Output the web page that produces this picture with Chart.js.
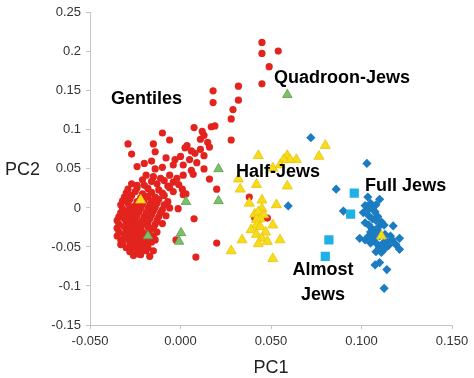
<!DOCTYPE html>
<html>
<head>
<meta charset="utf-8">
<script src="https://cdn.jsdelivr.net/npm/chart.js@4/dist/chart.umd.min.js"></script>
<style>
html,body{margin:0;padding:0;background:#fff;}
#wrap{width:474px;height:378px;}
</style>
</head>
<body>
<div id="wrap"><canvas id="c" width="474" height="378"></canvas></div>
<script>
// ---- data (PC1, PC2) ----
const gentiles = [
  [0.018,0.150],[0.018,0.135],[0.032,0.156],[0.032,0.138],[0.029,0.126],[0.028,0.114],[0.028,0.087],
  [0.045,0.212],[0.045,0.198],[0.054,0.201],[0.049,0.181],[0.045,0.159],
  [0.0075,0.103],[0.012,0.098],[0.017,0.104],[0.019,0.105],[-0.010,0.096],[-0.006,0.087],[-0.029,0.082],
  [-0.027,0.069],[-0.015,0.082],[-0.014,0.072],[-0.024,0.053],[-0.020,0.057],[-0.016,0.060],[-0.008,0.064],
  [0.000,0.066],[-0.003,0.062],[0.0025,0.077],[0.006,0.073],[0.011,0.088],[0.013,0.093],[0.015,0.084],
  [0.011,0.075],[0.013,0.067],[0.009,0.058],[0.006,0.048],[0.0015,0.055],[-0.004,0.055],[-0.010,0.052],
  [-0.014,0.050],[-0.019,0.042],[-0.015,0.040],[-0.011,0.038],[-0.006,0.042],[-0.002,0.038],[0.0015,0.042],
  [0.007,0.043],[0.013,0.050],[0.016,0.037],[0.020,0.024],[-0.024,0.029],[0.0036,0.080],[0.008,0.070],
  [0.005,0.062],[0.016,0.078],
  [0.0075,-0.014],[-0.0013,-0.001],[-0.0025,-0.041],[0.020,-0.045],[0.0085,-0.063],[0.0015,0.017],
  [-0.017,-0.062],[-0.015,-0.055],[-0.022,-0.060],[-0.033,-0.047],[0.038,0.014],[0.041,-0.013],[0.048,-0.013],
  [-0.021,0.036],[-0.016,0.034],[-0.009,0.035],[-0.004,0.033],
  [-0.027,0.031],[-0.020,0.029],[-0.013,0.031],[-0.007,0.028],[-0.001,0.030],
  [-0.029,0.024],[-0.024,0.026],[-0.018,0.025],[-0.012,0.023],[-0.006,0.026],[0.001,0.024],
  [-0.030,0.019],[-0.025,0.021],[-0.021,0.018],[-0.016,0.020],[-0.010,0.019],[-0.004,0.021],[0.003,0.018],
  [-0.031,0.014],[-0.027,0.016],[-0.022,0.013],[-0.018,0.015],[-0.014,0.014],[-0.009,0.016],
  [-0.032,0.009],[-0.028,0.011],[-0.024,0.008],[-0.020,0.010],[-0.016,0.009],[-0.012,0.011],[-0.007,0.008],
  [-0.033,0.004],[-0.029,0.006],[-0.025,0.003],[-0.021,0.005],[-0.017,0.004],[-0.013,0.006],[-0.009,0.004],
  [-0.032,-0.001],[-0.028,0.001],[-0.025,-0.002],[-0.022,0.000],[-0.018,-0.001],[-0.014,0.001],[-0.010,-0.002],[-0.006,0.000],
  [-0.033,-0.006],[-0.029,-0.004],[-0.026,-0.007],[-0.023,-0.005],[-0.019,-0.006],[-0.015,-0.004],[-0.011,-0.006],
  [-0.034,-0.011],[-0.030,-0.009],[-0.027,-0.012],[-0.024,-0.010],[-0.020,-0.011],[-0.016,-0.009],[-0.012,-0.011],[-0.008,-0.010],
  [-0.035,-0.016],[-0.031,-0.014],[-0.028,-0.017],[-0.025,-0.015],[-0.021,-0.016],[-0.017,-0.014],[-0.013,-0.016],
  [-0.034,-0.021],[-0.030,-0.019],[-0.027,-0.022],[-0.024,-0.020],[-0.021,-0.021],[-0.018,-0.019],[-0.014,-0.021],[-0.010,-0.020],
  [-0.035,-0.026],[-0.031,-0.024],[-0.028,-0.027],[-0.025,-0.025],[-0.022,-0.026],[-0.018,-0.024],[-0.015,-0.026],
  [-0.034,-0.031],[-0.030,-0.029],[-0.027,-0.032],[-0.024,-0.030],[-0.021,-0.031],[-0.017,-0.029],[-0.013,-0.031],
  [-0.035,-0.036],[-0.031,-0.034],[-0.028,-0.037],[-0.025,-0.035],[-0.022,-0.036],[-0.019,-0.034],[-0.015,-0.036],
  [-0.033,-0.041],[-0.030,-0.039],[-0.027,-0.042],[-0.024,-0.040],[-0.021,-0.041],[-0.018,-0.039],[-0.014,-0.041],
  [-0.032,-0.046],[-0.028,-0.044],[-0.025,-0.047],[-0.022,-0.045],[-0.019,-0.046],[-0.016,-0.044],
  [-0.030,-0.051],[-0.027,-0.049],[-0.024,-0.052],[-0.021,-0.050],[-0.018,-0.051],
  [-0.028,-0.056],[-0.025,-0.054],[-0.022,-0.057],[-0.019,-0.055],
  [-0.026,-0.061],[-0.023,-0.059]
];
const halfJews = [
  [0.043,0.067],[0.059,0.067],[0.064,0.062],[0.0605,0.062],[0.057,0.062],[0.051,0.051],[0.055,0.055],
  [0.080,0.080],[0.0765,0.066],[0.032,0.037],[0.042,0.030],[0.059,0.028],[0.033,0.024],[0.045,0.010],
  [0.038,0.006],[0.053,0.004],[0.045,-0.001],[0.041,-0.008],[0.043,-0.005],[0.046,-0.009],[0.044,-0.014],
  [0.042,-0.015],[0.051,-0.022],[0.042,-0.022],[0.044,-0.024],[0.039,-0.028],[0.047,-0.031],[0.042,-0.034],
  [0.045,-0.039],[0.034,-0.041],[0.055,-0.041],[0.048,-0.043],[0.043,-0.046],[0.028,-0.055],[0.051,-0.065],
  [0.111,-0.036],[-0.022,0.010]
];
const quadroonJews = [
  [0.059,0.145],[0.021,0.050],[0.003,0.008],[0.021,0.009],[0.0003,-0.032],[-0.0008,-0.043],[-0.018,-0.036],[0.043,-0.013]
];
const almostJews = [
  [0.096,0.019],[0.094,-0.008],[0.082,-0.041],[0.080,-0.062]
];
const fullJews = [
  [0.072,0.090],[0.103,0.057],[0.086,0.024],[0.0595,0.0025],[0.090,-0.004],
  [0.1035,0.014],[0.110,0.011],[0.102,0.003],[0.106,0.000],[0.1075,-0.005],[0.101,-0.006],[0.104,-0.010],
  [0.109,-0.011],[0.111,-0.018],[0.102,-0.019],[0.1125,-0.022],[0.1175,-0.023],[0.106,-0.027],[0.105,-0.031],
  [0.109,-0.029],[0.099,-0.039],[0.102,-0.041],[0.107,-0.039],[0.1085,-0.046],[0.114,-0.043],[0.117,-0.041],
  [0.121,-0.039],[0.119,-0.047],[0.110,-0.051],[0.113,-0.052],[0.121,-0.053],[0.1075,-0.073],[0.110,-0.070],
  [0.114,-0.079],[0.1125,-0.103],
  [0.105,0.006],[0.108,0.004],[0.104,-0.002],[0.108,-0.016],[0.106,-0.014],[0.104,-0.022],[0.1095,-0.024],
  [0.113,-0.034],[0.110,-0.036],[0.1065,-0.034],[0.116,-0.036],[0.112,-0.045],[0.105,-0.045],[0.115,-0.048],
  [0.108,-0.056],[0.111,-0.057],[0.104,-0.036]
];
const xTickValues = [-0.05, 0, 0.05, 0.1, 0.15];
const xTickLabels = ['-0.050','0.000','0.050','0.100','0.150'];
const yTickValues = [-0.15,-0.1,-0.05,0,0.05,0.1,0.15,0.2,0.25];
const yTickLabels = ['-0.15','-0.1','-0.05','0','0.05','0.1','0.15','0.2','0.25'];
const groupLabels = ['Gentiles','Quadroon-Jews','Half-Jews','Full Jews','Almost','Jews'];
const xTitle = 'PC1';
const yTitle = 'PC2';

const toPts = arr => arr.map(p => ({x:p[0], y:p[1]}));
const FONT = "'Liberation Sans', Arial, sans-serif";
const axisColor = '#c4c4c4';

const textPlugin = {
  id:'texts',
  afterDatasetsDraw(chart){
    const ctx = chart.ctx, xs = chart.scales.x, ys = chart.scales.y;
    ctx.save();
    ctx.fillStyle = '#000';
    ctx.font = "bold 18px " + FONT;
    ctx.textBaseline = 'middle';
    const place = [
      [groupLabels[0], -0.0188, 0.139, 'center'],
      [groupLabels[1], 0.0517, 0.167, 'left'],
      [groupLabels[2], 0.0307, 0.046, 'left'],
      [groupLabels[3], 0.102, 0.028, 'left'],
      [groupLabels[4], 0.0787, -0.079, 'center'],
      [groupLabels[5], 0.0787, -0.112, 'center']
    ];
    place.forEach(([t,x,y,al]) => {
      ctx.textAlign = al;
      ctx.fillText(t, xs.getPixelForValue(x), ys.getPixelForValue(y));
    });
    ctx.font = "18px " + FONT;
    ctx.fillStyle = '#222';
    ctx.textAlign = 'left';
    ctx.fillText(yTitle, 5, ys.getPixelForValue(0.05) + 1);
    ctx.textAlign = 'center';
    ctx.fillText(xTitle, (chart.chartArea.left + chart.chartArea.right)/2, 368);
    ctx.restore();
  }
};

new Chart(document.getElementById('c'), {
  type:'scatter',
  data:{
    datasets:[
      {label:'Gentiles', data:toPts(gentiles), pointStyle:'circle', pointRadius:3.6,
       backgroundColor:'#e2231e', borderColor:'#e2231e', borderWidth:0, order:6},
      {label:'Full Jews', data:toPts(fullJews), pointStyle:'rectRot', pointRadius:4.6,
       backgroundColor:'#1b7cc2', borderColor:'#1b7cc2', borderWidth:0, order:5},
      {label:'Almost Jews', data:toPts(almostJews), pointStyle:'rect', pointRadius:6.5,
       backgroundColor:'#1fb1e6', borderColor:'#1fb1e6', borderWidth:0, order:4},
      {label:'Quadroon-Jews', data:toPts(quadroonJews), pointStyle:'triangle', pointRadius:5.5,
       backgroundColor:'#7cc06a', borderColor:'#5c9e4a', borderWidth:0.8, order:3},
      {label:'Half-Jews', data:toPts(halfJews), pointStyle:'triangle', pointRadius:5.8,
       backgroundColor:'#f8dc1c', borderColor:'#e6c40a', borderWidth:0.8, order:2}
    ]
  },
  options:{
    responsive:false,
    animation:false,
    events:[],
    layout:{padding:{left:0,right:22,top:10,bottom:0}},
    plugins:{legend:{display:false}, tooltip:{enabled:false}},
    scales:{
      x:{
        type:'linear', min:-0.05, max:0.15,
        afterBuildTicks: s => { s.ticks = xTickValues.map(v => ({value:v})); },
        afterFit: s => { s.height = 53; },
        ticks:{ callback:(v,i) => xTickLabels[i], font:{family:FONT, size:13}, color:'#333', padding:5, maxRotation:0, autoSkip:false },
        grid:{ display:true, drawOnChartArea:false, drawTicks:true, tickLength:4, color:axisColor },
        border:{ display:true, color:axisColor }
      },
      y:{
        type:'linear', min:-0.15, max:0.25,
        afterBuildTicks: s => { s.ticks = yTickValues.map(v => ({value:v})); },
        afterFit: s => { s.width = 90; },
        ticks:{ callback:(v,i) => yTickLabels[i], font:{family:FONT, size:13}, color:'#333', padding:5, autoSkip:false },
        grid:{ display:true, drawOnChartArea:false, drawTicks:true, tickLength:4, color:axisColor },
        border:{ display:true, color:axisColor }
      }
    }
  },
  plugins:[textPlugin]
});
</script>
</body>
</html>
